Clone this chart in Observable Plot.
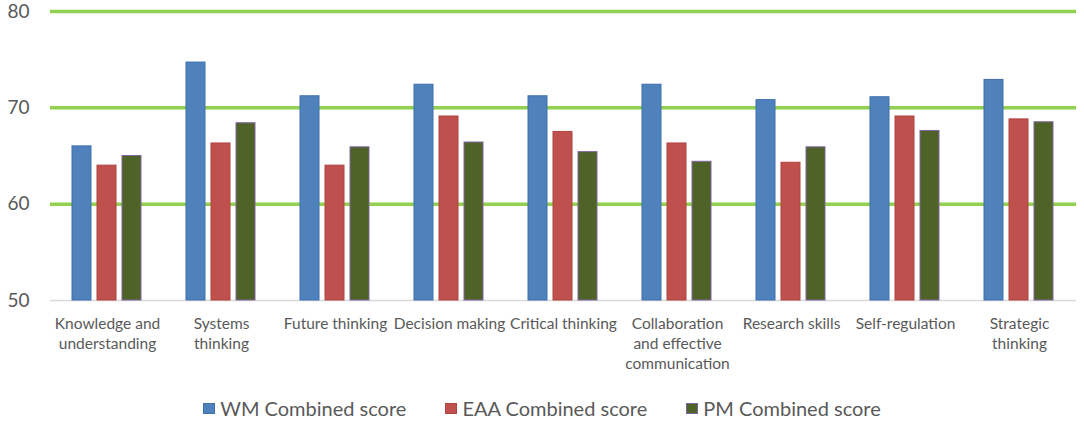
<!DOCTYPE html>
<html>
<head>
<meta charset="utf-8">
<script src="https://cdn.jsdelivr.net/npm/d3@7"></script>
<script src="https://cdn.jsdelivr.net/npm/@observablehq/plot@0.6"></script>
<style>
  html, body { margin: 0; padding: 0; background: #fff; }
  #chart { width: 1084px; }
  .legend { display: flex; justify-content: center; align-items: center; gap: 39px;
    font-family: Lato, "Open Sans", sans-serif; font-size: 20px; color: #595959; margin-top: 6px; }
  .legend .item { display: flex; align-items: center; gap: 5px; }
  .legend .sw { width: 12px; height: 11px; box-sizing: border-box; border: 1px solid; }
</style>
</head>
<body>
<div id="chart"></div>
<script>
const categories = ["Knowledge and understanding", "Systems thinking", "Future thinking", "Decision making",
  "Critical thinking", "Collaboration and effective communication", "Research skills", "Self-regulation", "Strategic thinking"];
const categoryLabels = ["Knowledge and\nunderstanding", "Systems\nthinking", "Future thinking", "Decision making",
  "Critical thinking", "Collaboration\nand effective\ncommunication", "Research skills", "Self-regulation", "Strategic\nthinking"];
const seriesNames = ["WM Combined score", "EAA Combined score", "PM Combined score"];
const wmScores  = [66.0, 74.7, 71.2, 72.4, 71.2, 72.4, 70.8, 71.1, 72.9];
const eaaScores = [64.0, 66.3, 64.0, 69.1, 67.5, 66.3, 64.3, 69.1, 68.8];
const pmScores  = [65.0, 68.4, 65.9, 66.4, 65.4, 64.4, 65.9, 67.6, 68.5];
const yTicks = [50, 60, 70, 80];
const gridValues = [60, 70, 80];
const fillColors = ["#4F81BD", "#C0504D", "#4F6228"];
const strokeColors = ["#3F70AE", "#B04441", "#8064A2"];

const seriesValues = [wmScores, eaaScores, pmScores];
const data = [];
categories.forEach((c, i) => {
  seriesNames.forEach((s, j) => {
    data.push({category: c, series: s, si: j, value: seriesValues[j][i]});
  });
});
const labelOf = new Map(categories.map((c, i) => [c, categoryLabels[i]]));

const chart = Plot.plot({
  width: 1084,
  height: 390,
  marginLeft: 46,
  marginRight: 4,
  marginTop: 11,
  marginBottom: 90,
  style: {fontFamily: "Lato, 'Open Sans', sans-serif", color: "#595959", background: "#fff", overflow: "visible"},
  fx: {domain: categories, padding: 0, label: null},
  x: {domain: seriesNames, paddingInner: 0.235, paddingOuter: 0.87, axis: null},
  y: {domain: [50, 80], label: null},
  marks: [
    Plot.ruleY(gridValues, {stroke: "#92D050", strokeWidth: 3.5}),
    Plot.ruleY([50], {stroke: "#D9D9D9", strokeWidth: 1.5}),
    Plot.barY(data, {
      fx: "category", x: "series", y1: 50, y2: "value",
      fill: d => fillColors[d.si], stroke: d => strokeColors[d.si], strokeWidth: 1
    }),
    Plot.axisY(yTicks, {tickSize: 0, tickPadding: 21, fontSize: 19, label: null, fill: "#595959"}),
    Plot.axisFx({anchor: "bottom", tickSize: 0, tickPadding: 14, fontSize: 15.5, lineHeight: 1.29,
      label: null, fill: "#595959", tickFormat: c => labelOf.get(c)})
  ]
});
document.getElementById("chart").appendChild(chart);

const legend = document.createElement("div");
legend.className = "legend";
seriesNames.forEach((s, j) => {
  const item = document.createElement("div");
  item.className = "item";
  const sw = document.createElement("span");
  sw.className = "sw";
  sw.style.background = fillColors[j];
  sw.style.borderColor = strokeColors[j];
  const t = document.createElement("span");
  t.textContent = s;
  item.appendChild(sw);
  item.appendChild(t);
  legend.appendChild(item);
});
document.getElementById("chart").appendChild(legend);
</script>
</body>
</html>
